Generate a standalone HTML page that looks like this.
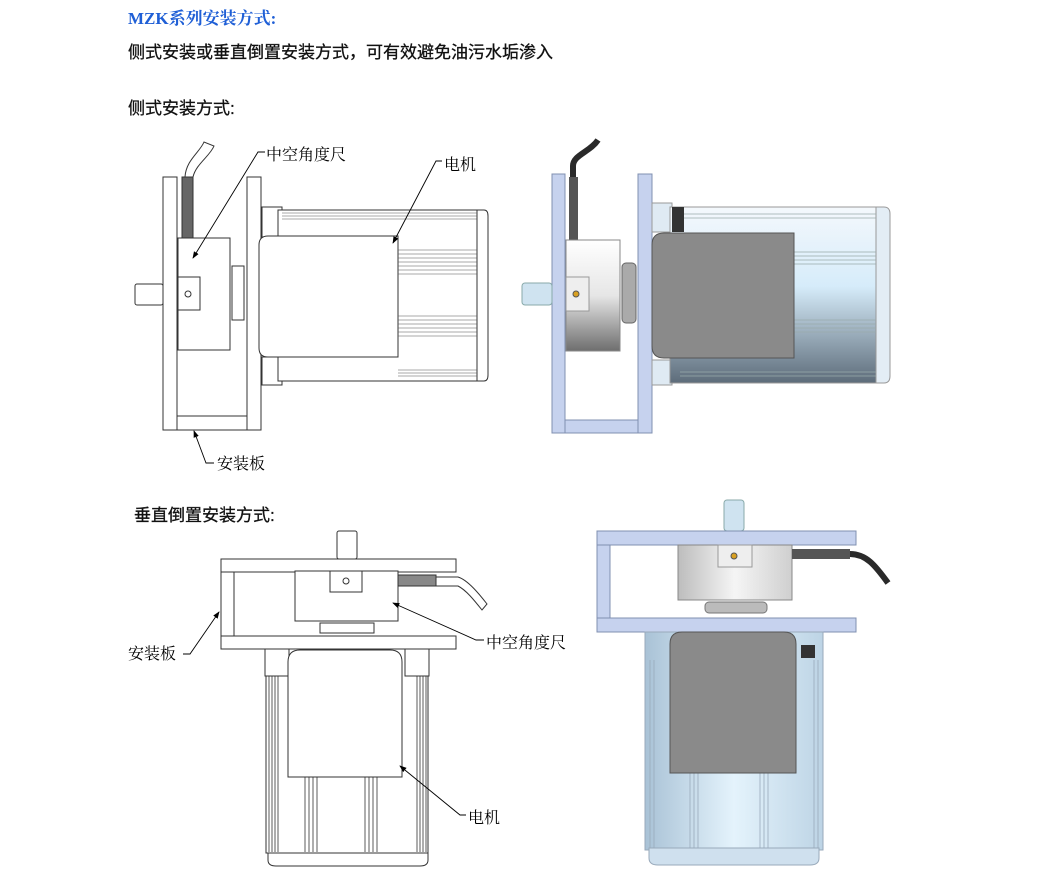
<!DOCTYPE html>
<html><head><meta charset="utf-8"><style>
html,body{margin:0;padding:0;background:#fff;width:1051px;height:882px;overflow:hidden}
svg{display:block}
text{font-family:"Liberation Sans","Noto Sans CJK SC",sans-serif}
.s{font-family:"Liberation Serif","Noto Serif CJK SC",serif}
</style></head><body>
<svg width="1051" height="882" viewBox="0 0 1051 882" xmlns="http://www.w3.org/2000/svg">
<defs>
<linearGradient id="mb" x1="0" y1="0" x2="0" y2="1"><stop offset="0" stop-color="#f4f8fc"/><stop offset="0.45" stop-color="#d6ecfa"/><stop offset="1" stop-color="#5d6c7a"/></linearGradient>
<linearGradient id="mb2" x1="0" y1="0" x2="1" y2="0"><stop offset="0" stop-color="#a9c2d6"/><stop offset="0.5" stop-color="#e4f3fc"/><stop offset="1" stop-color="#bdd4e5"/></linearGradient>
<linearGradient id="en" x1="0" y1="0" x2="0" y2="1"><stop offset="0" stop-color="#ffffff"/><stop offset="0.5" stop-color="#e6e6e6"/><stop offset="1" stop-color="#6e6e6e"/></linearGradient>
<linearGradient id="en2" x1="0" y1="0" x2="1" y2="0"><stop offset="0" stop-color="#bdbdbd"/><stop offset="0.5" stop-color="#f5f5f5"/><stop offset="1" stop-color="#cfcfcf"/></linearGradient>
<marker id="ar" markerWidth="8" markerHeight="8" refX="7" refY="4" orient="auto"><path d="M0,1 L8,4 L0,7 z" fill="#000"/></marker>
</defs>

<text x="128" y="24" font-size="17" font-weight="bold" fill="#1f5fd6" class="s">MZK系列安装方式:</text>
<text x="128" y="58" font-size="17" fill="#111" stroke="#111" stroke-width="0.3">侧式安装或垂直倒置安装方式，可有效避免油污水垢渗入</text>
<text x="128" y="114" font-size="17" fill="#111" stroke="#111" stroke-width="0.3">侧式安装方式:</text>
<text x="134" y="521" font-size="17" fill="#111" stroke="#111" stroke-width="0.3">垂直倒置安装方式:</text>

<!-- Drawing 1 -->
<g fill="#fff" stroke="#333" stroke-width="1">
<path d="M185,177 C186,160 200,152 204,142 L214,146 C210,156 196,164 193,177" />
<rect x="182" y="177" width="11" height="62" fill="#666"/>
<rect x="163" y="177" width="14" height="253"/>
<rect x="247" y="177" width="14" height="253"/>
<rect x="177" y="416" width="70" height="14"/>
<rect x="135" y="284" width="28" height="21" rx="2"/>
<rect x="178" y="238" width="52" height="112"/>
<rect x="178" y="277" width="22" height="33"/>
<circle cx="188" cy="294" r="3"/>
<rect x="232" y="266" width="12" height="54"/>
<rect x="262" y="207" width="20" height="30"/>
<rect x="262" y="357" width="20" height="28"/>
<rect x="278" y="210" width="199" height="171"/>
<path d="M477,210 L484,210 Q488,210 488,216 L488,375 Q488,381 484,381 L477,381 z"/>
<path d="M268,236 L398,236 L398,357 L268,357 Q259,357 259,348 L259,245 Q259,236 268,236 z"/>
</g>
<g stroke="#555" stroke-width="0.6">
<path d="M282,213h195M282,216h195M282,219h195M398,250h79M398,254h79M398,258h79M398,262h79M398,266h79M398,270h79M398,274h79M398,316h79M398,320h79M398,324h79M398,328h79M398,332h79M398,336h79M398,370h79M398,373h79M398,376h79"/>
</g>
<g stroke="#000" fill="none" stroke-width="0.9">
<path d="M265,152 L258,152 L193,258" marker-end="url(#ar)"/>
<path d="M442,161 L436,161 L393,243" marker-end="url(#ar)"/>
<path d="M214,463 L206,463 L194,431" marker-end="url(#ar)"/>
</g>
<text x="266" y="160" font-size="16" class="s">中空角度尺</text>
<text x="444" y="170" font-size="16" class="s">电机</text>
<text x="217" y="469" font-size="16" class="s">安装板</text>

<!-- Drawing 2 -->
<path d="M573,177 L573,166 C573,155 590,152 598,140" stroke="#2a2a2a" stroke-width="6" fill="none"/>
<rect x="569" y="177" width="9" height="63" fill="#555"/>
<g stroke="#8090b0" stroke-width="1" fill="#c6d2ee">
<rect x="552" y="174" width="13" height="259"/>
<rect x="638" y="174" width="14" height="259"/>
<rect x="565" y="420" width="73" height="13"/>
</g>
<rect x="522" y="283" width="30" height="22" rx="3" fill="#cfe3f0" stroke="#8aa"/>
<rect x="566" y="240" width="54" height="111" fill="url(#en)" stroke="#888"/>
<rect x="566" y="277" width="23" height="34" fill="#eee" stroke="#999"/>
<circle cx="576" cy="294" r="3" fill="#d9a020" stroke="#555"/>
<rect x="622" y="263" width="14" height="60" rx="4" fill="#aaa" stroke="#666"/>
<rect x="652" y="203" width="20" height="29" fill="#dfeaf3" stroke="#999"/>
<rect x="652" y="360" width="20" height="25" fill="#dfeaf3" stroke="#999"/>
<rect x="670" y="207" width="206" height="176" fill="url(#mb)" stroke="#999"/>
<path d="M876,207 L884,207 Q890,207 890,214 L890,376 Q890,383 884,383 L876,383 z" fill="#e3edf5" stroke="#999"/>
<g stroke="#9aa" stroke-width="0.8"><path d="M680,214h196M680,218h196M794,252h82M794,256h82M794,260h82M794,264h82M794,320h82M794,324h82M794,328h82M794,332h82M680,372h196M680,376h196"/></g>
<rect x="672" y="207" width="12" height="25" fill="#333"/>
<path d="M664,233 L794,233 L794,358 L664,358 Q652,358 652,346 L652,245 Q652,233 664,233 z" fill="#8a8a8a" stroke="#555"/>

<!-- Drawing 3 -->
<g fill="#fff" stroke="#333" stroke-width="1">
<rect x="337" y="531" width="20" height="28" rx="2"/>
<rect x="221" y="559" width="235" height="13"/>
<rect x="221" y="636" width="235" height="13"/>
<rect x="221" y="572" width="13" height="64"/>
<rect x="295" y="571" width="103" height="50"/>
<rect x="330" y="571" width="32" height="21"/>
<circle cx="346" cy="581" r="3"/>
<rect x="320" y="623" width="54" height="10"/>
<rect x="398" y="575" width="38" height="11" fill="#888"/>
<path d="M436,577 L458,577 C468,580 480,595 487,604 L482,610 C474,600 466,590 458,586 L436,586 z"/>
<rect x="266" y="649" width="162" height="204"/>
<rect x="265" y="649" width="24" height="27"/>
<rect x="405" y="649" width="24" height="27"/>
<path d="M268,853 L428,853 L428,860 Q428,866 420,866 L276,866 Q268,866 268,860 z"/>
<path d="M288,777 L288,662 Q288,650 300,650 L390,650 Q402,650 402,662 L402,777 z"/>
</g>
<g stroke="#333" stroke-width="0.8"><path d="M269,676v176M272,676v176M275,676v176M278,676v176M417,676v176M420,676v176M423,676v176M426,676v176M305,777v75M309,777v75M313,777v75M317,777v75M365,777v75M369,777v75M373,777v75M377,777v75"/></g>
<g stroke="#000" fill="none" stroke-width="0.9">
<path d="M183,654 L190,654 L219,612" marker-end="url(#ar)"/>
<path d="M484,640 L476,640 L393,603" marker-end="url(#ar)"/>
<path d="M466,815 L460,815 L400,766" marker-end="url(#ar)"/>
</g>
<text x="128" y="659" font-size="16" class="s">安装板</text>
<text x="486" y="648" font-size="16" class="s">中空角度尺</text>
<text x="468" y="823" font-size="16" class="s">电机</text>

<!-- Drawing 4 -->
<rect x="724" y="500" width="20" height="31" rx="3" fill="#cfe3f0" stroke="#8aa"/>
<g stroke="#8090b0" stroke-width="1" fill="#c6d2ee">
<rect x="597" y="531" width="259" height="14"/>
<rect x="597" y="618" width="259" height="14"/>
<rect x="597" y="545" width="13" height="73"/>
</g>
<rect x="678" y="545" width="114" height="55" fill="url(#en2)" stroke="#888"/>
<rect x="718" y="545" width="34" height="22" fill="#eee" stroke="#999"/>
<circle cx="734" cy="556" r="3" fill="#d9a020" stroke="#555"/>
<rect x="705" y="602" width="62" height="11" rx="4" fill="#bbb" stroke="#777"/>
<rect x="792" y="549" width="58" height="10" fill="#555"/>
<path d="M850,554 C866,554 875,565 888,583" stroke="#2a2a2a" stroke-width="6" fill="none"/>
<rect x="645" y="632" width="178" height="218" fill="url(#mb2)" stroke="#9ab"/>
<path d="M649,848 L819,848 L819,858 Q819,865 810,865 L658,865 Q649,865 649,858 z" fill="#cfe0ee" stroke="#9ab"/>
<g stroke="#9ab" stroke-width="0.8"><path d="M650,660v188M654,660v188M814,660v188M818,660v188M690,773v75M694,773v75M698,773v75M760,773v75M764,773v75M768,773v75"/></g>
<rect x="801" y="645" width="14" height="13" fill="#333"/>
<path d="M670,773 L670,644 Q670,632 682,632 L784,632 Q796,632 796,644 L796,773 z" fill="#8a8a8a" stroke="#555"/>
</svg>
</body></html>
